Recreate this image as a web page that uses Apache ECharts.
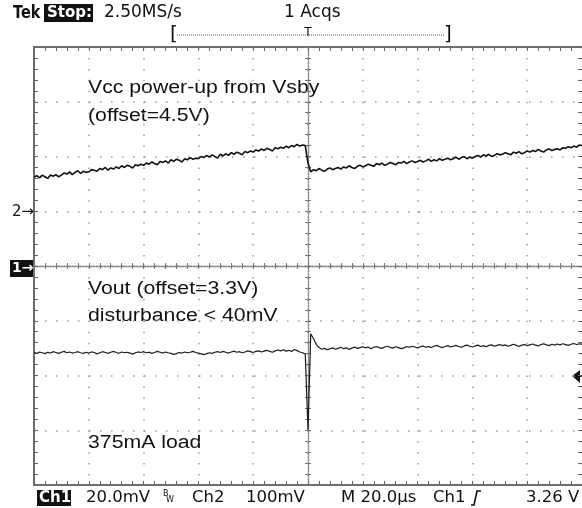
<!DOCTYPE html>
<html>
<head>
<meta charset="utf-8">
<script src="https://cdn.jsdelivr.net/npm/echarts@6/dist/echarts.min.js"></script>
<style>
  html, body { margin: 0; padding: 0; background: #fff; }
  #chart { width: 582px; height: 508px; }
</style>
</head>
<body>
<div id="chart"></div>
<script>
// ---- Data ----
// Time base: 20 us/div, 10 divisions, trigger at centre
const timeStartUs = -100;
const timeStepUs = 1;
const timeTicksUs = [-100, -80, -60, -40, -20, 0, 20, 40, 60, 80, 100];

// Ch1: Vout, 20 mV/div, relative to 3.3 V offset (mV)
const ch1Millivolts = [
  -31.6,-31.9,-31.4,-31.7,-32.0,-31.5,-31.8,-31.3,-31.6,-31.9,
  -31.5,-31.2,-31.7,-31.4,-31.8,-31.6,-31.3,-31.7,-31.9,-31.5,
  -31.8,-31.4,-31.6,-32.1,-31.7,-31.3,-31.6,-31.9,-31.5,-31.2,
  -31.6,-31.9,-31.4,-31.7,-31.5,-31.8,-32.2,-31.7,-31.4,-31.6,
  -31.3,-31.7,-31.5,-31.9,-31.6,-31.2,-31.5,-31.8,-31.4,-31.7,
  -31.9,-32.3,-32.0,-31.6,-31.8,-31.4,-31.7,-31.5,-31.2,-31.6,
  -31.8,-32.1,-32.4,-32.0,-31.7,-31.9,-31.5,-31.3,-31.6,-31.2,
  -31.5,-31.8,-31.4,-31.1,-31.5,-31.3,-31.7,-31.4,-31.0,-31.3,
  -31.6,-31.2,-31.0,-31.4,-31.1,-30.8,-31.2,-31.5,-31.0,-30.7,
  -31.0,-30.6,-31.1,-30.8,-31.2,-30.5,-30.9,-31.4,-31.7,-32.2,
  -60.0,
  -24.8,-26.5,-28.6,-29.8,-30.4,-30.1,-30.6,-30.3,-29.9,-30.4,
  -30.1,-29.7,-30.2,-29.9,-30.5,-30.0,-29.6,-30.1,-29.8,-29.5,
  -29.9,-29.6,-30.2,-29.7,-29.4,-29.8,-30.1,-29.6,-29.3,-29.7,
  -30.0,-29.5,-29.8,-30.2,-29.9,-29.4,-29.7,-29.3,-29.6,-29.9,
  -29.5,-29.2,-29.7,-29.4,-29.8,-29.3,-29.0,-29.5,-29.8,-29.4,
  -29.1,-29.6,-29.3,-29.0,-29.4,-29.7,-29.2,-28.9,-29.3,-29.6,
  -29.2,-28.9,-29.4,-29.1,-29.5,-29.0,-28.8,-29.3,-29.0,-28.7,
  -29.1,-28.8,-29.3,-29.0,-28.6,-29.0,-29.4,-28.9,-28.7,-29.1,
  -28.8,-28.5,-28.9,-29.2,-28.7,-28.4,-28.8,-29.1,-28.6,-28.9,
  -28.5,-28.8,-28.4,-28.7,-29.0,-28.6,-28.3,-28.7,-28.4,-28.6
];

// Ch2: Vcc, 100 mV/div, relative to 4.5 V offset (mV)
const ch2Millivolts = [
  62,65,61,66,63,60,66,64,67,63,
  66,70,68,72,67,71,74,69,73,71,
  72,76,75,73,78,76,80,75,79,77,
  81,78,83,80,84,82,79,85,83,86,
  84,88,86,90,87,85,91,89,92,88,
  94,91,95,93,90,96,94,98,95,97,
  96,100,98,102,99,103,100,97,104,101,
  105,102,107,104,108,106,103,109,107,110,
  108,112,110,114,111,115,113,110,116,114,
  117,115,119,116,120,118,122,119,121,120,
  88,
  72,76,74,78,75,73,77,79,76,78,
  80,77,81,79,83,80,78,82,84,81,
  83,86,84,82,87,85,88,84,86,89,
  87,85,89,88,91,87,90,92,89,91,
  93,90,92,95,91,94,92,96,93,95,
  97,94,96,99,95,98,100,96,99,97,
  100,102,99,103,101,104,100,102,105,103,
  104,107,105,103,108,106,109,105,107,110,
  108,111,109,113,110,108,112,114,111,113,
  114,112,116,115,118,116,119,117,121,120
];

// Axis ranges (per channel scale)
const ch1RangeMv = [-80, 80];   // 8 div x 20 mV, offset at centre
const ch1DivMv = 20;
const ch2RangeMv = [-500, 300]; // 8 div x 100 mV, Ch2 marker one div above centre
const ch2DivMv = 100;

// Status bar texts
const topTexts = { brand: 'Tek', state: 'Stop:', rate: '2.50MS/s', acqs: '1 Acqs' };
const bottomTexts = ['20.0mV', 'Ch2', '100mV', 'M 20.0\u00b5s', 'Ch1', '3.26 V'];
const noteTexts = ['Vcc power-up from Vsby', '(offset=4.5V)', 'Vout (offset=3.3V)', 'disturbance < 40mV', '375mA load'];

// ---- Chart ----
const chart = echarts.init(document.getElementById('chart'), null, { renderer: 'canvas' });

const toPairs = arr => arr.map((v, i) => [timeStartUs + i * timeStepUs, v]);

const frameColor = '#6e6e6e';
const tickColor = '#666';
const gridDotColor = '#9a9a9a';

function frameX(position) {
  return {
    type: 'value', position: position,
    min: timeTicksUs[0], max: timeTicksUs[timeTicksUs.length - 1], interval: 20,
    axisLine: { show: true, onZero: false, lineStyle: { color: frameColor, width: 2 } },
    axisTick: { show: true, inside: true, length: 4, lineStyle: { color: tickColor, width: 1 } },
    minorTick: { show: true, splitNumber: 5, length: 4, lineStyle: { color: tickColor, width: 1 } },
    axisLabel: { show: false },
    splitLine: { show: false }
  };
}
function centreX(position) {
  return {
    type: 'value', position: position,
    min: timeTicksUs[0], max: timeTicksUs[timeTicksUs.length - 1], interval: 20,
    axisLine: { show: true, onZero: true, onZeroAxisIndex: 0, lineStyle: { color: '#8a8a8a', width: 1.3, type: [1.3, 1.4] } },
    axisTick: { show: true, inside: true, length: 3, lineStyle: { color: '#777', width: 1 } },
    minorTick: { show: true, splitNumber: 5, length: 3, lineStyle: { color: '#777', width: 1 } },
    axisLabel: { show: false },
    splitLine: { show: false }
  };
}
function frameY(position, showLine) {
  return {
    type: 'value', position: position,
    min: ch1RangeMv[0], max: ch1RangeMv[1], interval: ch1DivMv,
    axisLine: { show: showLine, onZero: false, lineStyle: { color: frameColor, width: 2 } },
    axisTick: { show: true, inside: true, length: 4, lineStyle: { color: tickColor, width: 1 } },
    minorTick: { show: true, splitNumber: 5, length: 4, lineStyle: { color: tickColor, width: 1 } },
    axisLabel: { show: false },
    splitLine: { show: false }
  };
}
function centreY(position) {
  return {
    type: 'value', position: position,
    min: ch1RangeMv[0], max: ch1RangeMv[1], interval: ch1DivMv,
    axisLine: { show: true, onZero: true, onZeroAxisIndex: 0, lineStyle: { color: '#8a8a8a', width: 1.3, type: [1.3, 1.4] } },
    axisTick: { show: true, inside: true, length: 3, lineStyle: { color: '#777', width: 1 } },
    minorTick: { show: true, splitNumber: 5, length: 3, lineStyle: { color: '#777', width: 1 } },
    axisLabel: { show: false },
    splitLine: { show: false }
  };
}

const xMain = frameX('bottom');
xMain.splitLine = { show: true, lineStyle: { color: gridDotColor, width: 1.5, type: [1.5, 9.45], dashOffset: 0 } };
const yMain = frameY('left', true);
yMain.splitLine = { show: true, lineStyle: { color: gridDotColor, width: 1.5, type: [1.5, 9.5], dashOffset: 0 } };

const ch2Axis = { type: 'value', show: false, min: ch2RangeMv[0], max: ch2RangeMv[1], interval: ch2DivMv,
  axisLine: { onZero: false }, splitLine: { show: false } };

const textFont = '18px "Liberation Sans", Arial, sans-serif';
const statusFont = '16.5px "DejaVu Sans", sans-serif';
const topFont = '17px "DejaVu Sans", sans-serif';

function note(text, x, y) {
  return { type: 'text', x: x, y: y, scaleX: 1.18, style: { text: text, font: textFont, fill: '#111', align: 'left', verticalAlign: 'middle' } };
}
function status(text, x, y, font, align) {
  return { type: 'text', x: x, y: y, style: { text: text, font: font || statusFont, fill: '#111', align: align || 'left', verticalAlign: 'middle' } };
}

const option = {
  animation: false,
  backgroundColor: '#ffffff',
  grid: { left: 34, top: 47, width: 550, height: 438, containLabel: false, show: false },
  xAxis: [xMain, frameX('top'), centreX('bottom'), centreX('top')],
  yAxis: [yMain, ch2Axis, frameY('right', false), centreY('left'), centreY('right')],
  series: [
    {
      name: 'Ch2', type: 'line', xAxisIndex: 0, yAxisIndex: 1,
      data: toPairs(ch2Millivolts), showSymbol: false, symbol: 'none',
      lineStyle: { color: '#111', width: 1.6 }, silent: true, z: 5
    },
    {
      name: 'Ch1', type: 'line', xAxisIndex: 0, yAxisIndex: 0,
      data: toPairs(ch1Millivolts), showSymbol: false, symbol: 'none',
      lineStyle: { color: '#1c1c1c', width: 1.2 }, silent: true, z: 5
    }
  ],
  graphic: [
    // top status line
    { type: 'text', x: 13, y: 13, scaleX: 0.8, style: { text: topTexts.brand, font: 'bold 18px "DejaVu Sans", sans-serif', fill: '#111', align: 'left', verticalAlign: 'middle' } },
    { type: 'rect', shape: { x: 44, y: 4, width: 49, height: 18 }, style: { fill: '#111' } },
    { type: 'text', x: 47, y: 13, style: { text: topTexts.state, font: 'bold 15px "DejaVu Sans", sans-serif', fill: '#fff', align: 'left', verticalAlign: 'middle' } },
    status(topTexts.rate, 104, 13, topFont),
    status(topTexts.acqs, 284, 13, topFont),
    // record bracket
    status('[', 170, 35, '20px "DejaVu Sans", sans-serif'),
    { type: 'line', shape: { x1: 177, y1: 35, x2: 445, y2: 35 }, style: { stroke: '#555', lineWidth: 1, lineDash: [1, 1] } },
    status('T', 308, 33, '12px "DejaVu Sans", sans-serif', 'center'),
    status(']', 444, 35, '20px "DejaVu Sans", sans-serif'),
    // channel markers
    status('2\u2192', 12, 212, '15px "DejaVu Sans", sans-serif'),
    { type: 'rect', shape: { x: 10, y: 260, width: 23, height: 17 }, style: { fill: '#111' } },
    { type: 'text', x: 12, y: 268, style: { text: '1\u2192', font: 'bold 14px "DejaVu Sans", sans-serif', fill: '#fff', align: 'left', verticalAlign: 'middle' } },
    // trigger level arrow (3.26 V)
    { type: 'polygon', shape: { points: [[572, 376], [580, 370], [580, 383]] }, style: { fill: '#111' } },
    { type: 'line', shape: { x1: 579, y1: 376, x2: 582, y2: 376 }, style: { stroke: '#111', lineWidth: 2 } },
    // annotations
    note(noteTexts[0], 88, 88),
    note(noteTexts[1], 88, 116),
    note(noteTexts[2], 88, 289),
    note(noteTexts[3], 88, 316),
    note(noteTexts[4], 88, 443),
    // bottom status line
    { type: 'rect', shape: { x: 37, y: 490, width: 34, height: 16 }, style: { fill: '#111' } },
    { type: 'text', x: 39, y: 498, style: { text: 'Ch1', font: 'bold 15px "DejaVu Sans", sans-serif', fill: '#fff', align: 'left', verticalAlign: 'middle' } },
    status(bottomTexts[0], 86, 498),
    status('B', 163, 494, '8px "DejaVu Sans", sans-serif'),
    status('W', 166, 500, '8px "DejaVu Sans", sans-serif'),
    status(bottomTexts[1], 192, 498),
    status(bottomTexts[2], 246, 498),
    status(bottomTexts[3], 341, 498),
    status(bottomTexts[4], 433, 498),
    { type: 'polyline', shape: { points: [[471, 505], [474, 505], [477, 491], [481, 491]] }, style: { stroke: '#111', lineWidth: 1.6, fill: null } },
    status(bottomTexts[5], 526, 498)
  ]
};

chart.setOption(option);
</script>
</body>
</html>
